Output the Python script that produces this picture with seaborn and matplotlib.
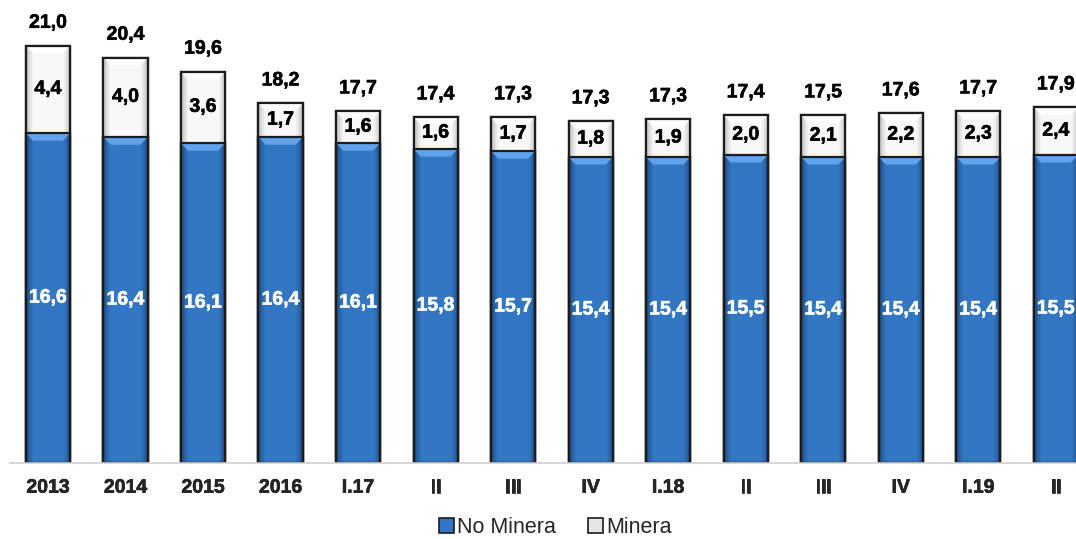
import matplotlib
matplotlib.use("Agg")
import matplotlib.pyplot as plt
from matplotlib.patches import Polygon, Patch
from matplotlib.colors import to_rgb
import matplotlib.patheffects as pe
import numpy as np
import seaborn as sns
import pandas as pd

periods = ["2013", "2014", "2015", "2016", "I.17", "II", "III", "IV",
           "I.18", "II ", "III ", "IV ", "I.19", "II  "]
no_minera = [16.6, 16.4, 16.1, 16.4, 16.1, 15.8, 15.7, 15.4, 15.4, 15.5, 15.4, 15.4, 15.4, 15.5]
minera = [4.4, 4.0, 3.6, 1.7, 1.6, 1.6, 1.7, 1.8, 1.9, 2.0, 2.1, 2.2, 2.3, 2.4]
totals = [21.0, 20.4, 19.6, 18.2, 17.7, 17.4, 17.3, 17.3, 17.3, 17.4, 17.5, 17.6, 17.7, 17.9]

sns.set_theme(style="white")
plt.rcParams["font.family"] = ["Liberation Sans", "DejaVu Sans"]

BLUE = "#3377c4"
BLUE_DARK = "#1d4a80"
BLUE_LIGHT = "#5fa3ea"
WHITE = "#f8f8f8"
WHITE_DARK = "#b8b8b8"
EDGE = "#1c1c1c"

df = pd.DataFrame({"periodo": periods, "no_minera": no_minera, "minera": minera})
df["apilado"] = df["no_minera"] + df["minera"]

fig = plt.figure(figsize=(10.76, 5.39), dpi=100)
ax = fig.add_axes([0.0093, 0.141, 0.9907, 0.859])

sns.barplot(data=df, x="periodo", y="apilado", color=WHITE, width=0.57,
            edgecolor=EDGE, linewidth=1.6, saturation=1, ax=ax)
n = len(df)
sns.barplot(data=df, x="periodo", y="no_minera", color=BLUE, width=0.57,
            edgecolor=EDGE, linewidth=1.6, saturation=1, ax=ax)

white_bars = ax.patches[:n]
blue_bars = ax.patches[n:2 * n]


def side_gradient(c_mid, c_edge, cols=60):
    """Horizontal shading: darker near both sides of the bar."""
    t = np.linspace(0, 1, cols)
    edge_w = 0.16
    k = np.clip(np.minimum(t, 1 - t) / edge_w, 0, 1) ** 0.8
    a, b = np.array(to_rgb(c_edge)), np.array(to_rgb(c_mid))
    row = a[None, :] * (1 - k[:, None]) + b[None, :] * k[:, None]
    return row[None, :, :]


ylim_top = 23.3
bevel = 0.38
for p_white, p_blue, nm in zip(white_bars, blue_bars, no_minera):
    x0, w = p_blue.get_x(), p_blue.get_width()
    # blue segment shading
    im = ax.imshow(side_gradient(BLUE, BLUE_DARK), extent=(x0, x0 + w, 0, nm),
                   aspect="auto", zorder=2.5, interpolation="bilinear")
    im.set_clip_path(p_blue)
    inset = w * 0.16
    ax.add_patch(Polygon([(x0, nm), (x0 + w, nm), (x0 + w - inset, nm - bevel),
                          (x0 + inset, nm - bevel)], closed=True,
                         facecolor=BLUE_LIGHT, edgecolor="none", zorder=2.6))
    # white segment shading
    top = p_white.get_height()
    im2 = ax.imshow(side_gradient(WHITE, WHITE_DARK), extent=(x0, x0 + w, nm, top),
                    aspect="auto", zorder=1.5, interpolation="bilinear")
    im2.set_clip_path(p_white)
    ax.add_patch(Polygon([(x0, top), (x0 + w, top), (x0 + w - inset, top - bevel),
                          (x0 + inset, top - bevel)], closed=True,
                         facecolor="#ffffff", edgecolor="none", zorder=1.6))
    # redraw outlines on top of the shading
    for p in (p_white, p_blue):
        ax.add_patch(plt.Rectangle((p.get_x(), p.get_y()), p.get_width(), p.get_height(),
                                   facecolor="none", edgecolor=EDGE, linewidth=1.6,
                                   zorder=2.8))


def heavy(color):
    return [pe.withStroke(linewidth=0.4, foreground=color)]


for i in range(n):
    nm, mi, tot = no_minera[i], minera[i], totals[i]
    ax.text(i, nm / 2, f"{nm:.1f}".replace(".", ","), ha="center", va="center",
            color="white", fontsize=14, fontweight="bold", zorder=5,
            path_effects=heavy("white"))
    ax.text(i, nm + mi / 2, f"{mi:.1f}".replace(".", ","), ha="center", va="center",
            color="black", fontsize=14, fontweight="bold", zorder=5,
            path_effects=heavy("black"))
    ax.annotate(f"{tot:.1f}".replace(".", ","), (i, nm + mi), xytext=(0, 10),
                textcoords="offset points", ha="center", va="bottom",
                color="black", fontsize=14, fontweight="bold", zorder=5,
                path_effects=heavy("black"))

ax.set_xlim(-0.49, n - 0.74)
ax.set_ylim(0, ylim_top)
ax.set_xlabel("")
ax.set_ylabel("")
ax.set_yticks([])
ax.set_xticks(range(n))
ax.set_xticklabels([p.strip() for p in periods], fontsize=14, fontweight="bold")
for t in ax.get_xticklabels():
    t.set_path_effects(heavy("black"))
ax.tick_params(axis="x", length=0, pad=12)
for s in ("top", "right", "left"):
    ax.spines[s].set_visible(False)
ax.spines["bottom"].set_color("#d0d0d0")
ax.spines["bottom"].set_linewidth(1.2)
ax.spines["bottom"].set_zorder(3)

handles = [Patch(facecolor=BLUE, edgecolor=EDGE, linewidth=1.2),
           Patch(facecolor="#e6e6e6", edgecolor=EDGE, linewidth=1.2)]
fig.legend(handles, ["No Minera", "Minera"], loc="center", ncol=2,
           bbox_to_anchor=(0.516, 0.022), frameon=False, fontsize=15.5,
           handlelength=0.7, handleheight=0.7, handletextpad=0.15,
           columnspacing=1.5)

fig.savefig("out.png", dpi=100)
